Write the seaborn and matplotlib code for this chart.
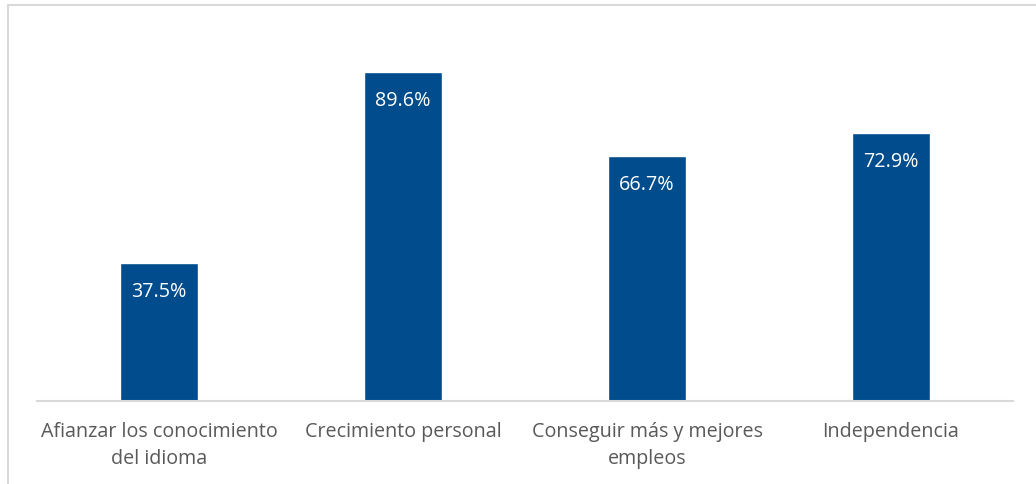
import pandas as pd
import matplotlib.pyplot as plt
import seaborn as sns
from matplotlib.lines import Line2D

# Datos
categorias = ['Afianzar los conocimiento\ndel idioma', 'Crecimiento personal',
              'Conseguir más y mejores\nempleos', 'Independencia']
porcentajes = [37.5, 89.6, 66.7, 72.9]

sns.set_style('white')
plt.rcParams['font.family'] = ['Open Sans', 'DejaVu Sans']

df = pd.DataFrame({'motivo': categorias, 'valor': porcentajes})

fig = plt.figure(figsize=(10.36, 4.85), dpi=100)
ax = fig.add_axes([37 / 1036, 83 / 485, 976 / 1036, 367 / 485])

sns.barplot(data=df, x='motivo', y='valor', color='#004C8C', width=0.316,
            saturation=1, ax=ax)

ax.set_ylim(0, 100)
ax.set_xlim(-0.5, 3.5)
ax.set_xlabel('')
ax.set_ylabel('')
ax.set_yticks([])
for s in ['top', 'right', 'left']:
    ax.spines[s].set_visible(False)
ax.spines['bottom'].set_color('#D9D9D9')
ax.spines['bottom'].set_linewidth(1.5)
ax.tick_params(axis='x', length=0, pad=14.5, labelsize=14.2, labelcolor='#595959')
for t in ax.get_xticklabels():
    t.set_linespacing(1.45)

for i, v in enumerate(porcentajes):
    ax.annotate(f'{v:.1f}%', xy=(i, v), xytext=(0, -12.5), textcoords='offset points',
                ha='center', va='top', color='white', fontsize=14.2)

# Borde del gráfico
fig.add_artist(Line2D([7.5 / 1036, 1], [1 - 5.5 / 485, 1 - 5.5 / 485],
                      transform=fig.transFigure, color='#D9D9D9', linewidth=1.5))
fig.add_artist(Line2D([7.5 / 1036, 7.5 / 1036], [0, 1 - 5.5 / 485],
                      transform=fig.transFigure, color='#D9D9D9', linewidth=1.5))

plt.savefig('out.png', dpi=100, facecolor='white')
plt.close()
